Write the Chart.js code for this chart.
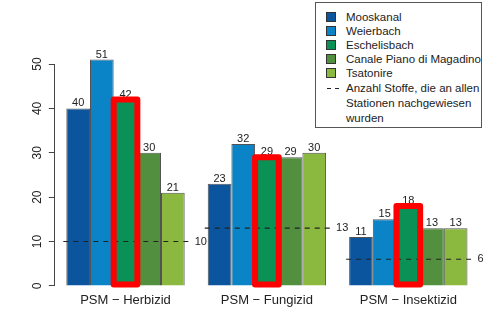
<!DOCTYPE html>
<html>
<head>
<meta charset="utf-8">
<script src="https://cdn.jsdelivr.net/npm/chart.js@4"></script>
<style>
    body { margin: 0; background: #fff; overflow: hidden; }
    #wrap { position: relative; width: 483px; height: 311px; }
    #legend {
        position: absolute; left: 315px; top: 2px; width: 167px; height: 126px;
        border: 1px solid #555; background: #fff; box-sizing: border-box;
        font: 11.5px "Liberation Sans", Arial, sans-serif; color: #222;
        padding-top: 7px;
    }
    .row { display: flex; align-items: center; height: 14px; padding-left: 10px; white-space: nowrap; }
    .swatch { width: 8px; height: 8px; border: 1px solid #333; margin-right: 10px; flex: none; }
    .note { display: flex; align-items: flex-start; padding-left: 11px; margin-top: 1px; line-height: 15px; }
    .dash {
        width: 12px; height: 1.3px; margin-top: 7px; margin-right: 7px; flex: none;
        background: repeating-linear-gradient(90deg, #222 0 4px, transparent 4px 8px);
    }
    .note span { width: 138px; }
</style>
</head>
<body>
<div id="wrap">
    <canvas id="chart" width="483" height="311"></canvas>
    <div id="legend"></div>
</div>
<script>
// data
const categories = ["PSM − Herbizid", "PSM − Fungizid", "PSM − Insektizid"];
const stations = ["Mooskanal", "Weierbach", "Eschelisbach", "Canale Piano di Magadino", "Tsatonire"];
const mooskanal = [40, 23, 11];
const weierbach = [51, 32, 15];
const eschelisbach = [42, 29, 18];
const canalePiano = [30, 29, 13];
const tsatonire = [21, 30, 13];
const commonSubstances = [10, 13, 6];
const highlightedStation = "Eschelisbach";
const noteLabel = "Anzahl Stoffe, die an allen Stationen nachgewiesen wurden";
const yTicks = { min: 0, max: 50, step: 10 };

const stationValues = [mooskanal, weierbach, eschelisbach, canalePiano, tsatonire];
const stationColors = ["#0b559f", "#0a84c6", "#0a9156", "#52903f", "#8bb83e"];

document.addEventListener("DOMContentLoaded", () => {
    Chart.defaults.font.family = "'Liberation Sans', Arial, sans-serif";
    Chart.defaults.color = "#222";

    // value labels, reference lines and the red highlight
    const overlays = {
        id: "overlays",
        afterDatasetsDraw(chart) {
            const ctx = chart.ctx;
            const yScale = chart.scales.y;
            ctx.save();
            ctx.font = "11px 'Liberation Sans', Arial, sans-serif";
            ctx.fillStyle = "#222";
            ctx.textAlign = "center";
            ctx.textBaseline = "alphabetic";
            chart.data.datasets.forEach((ds, i) => {
                chart.getDatasetMeta(i).data.forEach((bar, j) => {
                    ctx.fillText(ds.data[j], bar.x, bar.y - 2);
                });
            });

            const first = chart.getDatasetMeta(0).data;
            const last = chart.getDatasetMeta(stations.length - 1).data;
            commonSubstances.forEach((v, j) => {
                const left = first[j].x - first[j].width / 2 - 3;
                const right = last[j].x + last[j].width / 2 + 5;
                const y = yScale.getPixelForValue(v);
                ctx.setLineDash([5, 5]);
                ctx.lineWidth = 1.2;
                ctx.strokeStyle = "#222";
                ctx.beginPath();
                ctx.moveTo(left, y);
                ctx.lineTo(right, y);
                ctx.stroke();
                ctx.setLineDash([]);
                ctx.textAlign = "left";
                ctx.textBaseline = "middle";
                ctx.fillText(v, right + 5, y);
            });

            const hi = stations.indexOf(highlightedStation);
            ctx.lineWidth = 6;
            ctx.strokeStyle = "#ff0000";
            ctx.lineJoin = "round";
            chart.getDatasetMeta(hi).data.forEach(bar => {
                ctx.strokeRect(bar.x - bar.width / 2, bar.y, bar.width, bar.base - bar.y - 1);
            });
            ctx.restore();
        }
    };

    new Chart(document.getElementById("chart"), {
        type: "bar",
        data: {
            labels: categories,
            datasets: stations.map((name, i) => ({
                label: name,
                data: stationValues[i],
                backgroundColor: stationColors[i],
                borderColor: "rgba(40,40,40,0.8)",
                borderWidth: 1,
                categoryPercentage: 0.837,
                barPercentage: 1,
                clip: false,
            })),
        },
        options: {
            responsive: false,
            animation: false,
            layout: { padding: { top: 64, right: 4, left: 26.4, bottom: -4.5 } },
            plugins: { legend: { display: false }, tooltip: { enabled: false } },
            scales: {
                x: {
                    grid: { display: false, drawTicks: false },
                    border: { display: false },
                    ticks: { font: { size: 13 }, padding: 7 },
                },
                y: {
                    min: yTicks.min,
                    max: yTicks.max,
                    grid: { drawOnChartArea: false, tickLength: 6, color: "#444" },
                    border: { color: "#444" },
                    ticks: {
                        stepSize: yTicks.step,
                        minRotation: 90,
                        maxRotation: 90,
                        crossAlign: "center",
                        padding: 4,
                        font: { size: 12 },
                    },
                },
            },
        },
        plugins: [overlays],
    });

    // legend box
    const legend = document.getElementById("legend");
    stations.forEach((name, i) => {
        const row = document.createElement("div");
        row.className = "row";
        row.innerHTML = `<div class="swatch" style="background:${stationColors[i]}"></div><span>${name}</span>`;
        legend.appendChild(row);
    });
    const note = document.createElement("div");
    note.className = "note";
    note.innerHTML = `<div class="dash"></div><span>${noteLabel}</span>`;
    legend.appendChild(note);
});
</script>
</body>
</html>
